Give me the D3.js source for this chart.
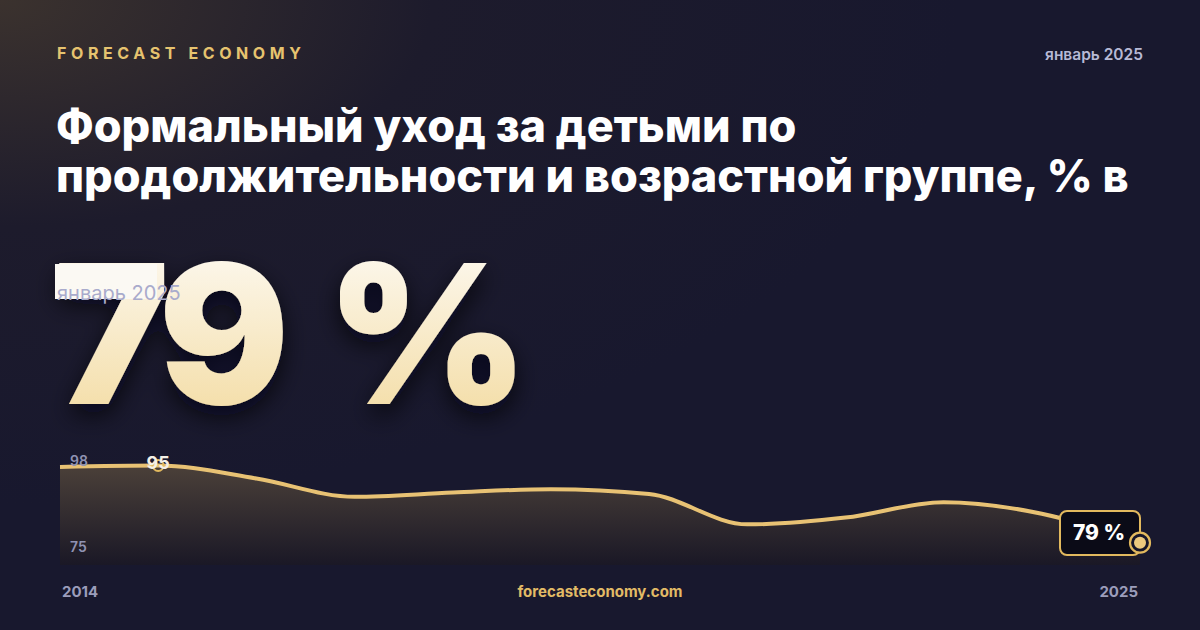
<!DOCTYPE html>
<html>
<head>
<meta charset="utf-8">
<script src="https://cdn.jsdelivr.net/npm/d3@7"></script>
<style>
  html, body { margin: 0; padding: 0; background: #16162a; }
  svg { display: block; font-family: Inter, "Noto Sans", sans-serif; }
</style>
</head>
<body>
<div id="chart"></div>
<script>
// данные: доля формального ухода за детьми, %
var years = [2014, 2015, 2016, 2017, 2018, 2019, 2020, 2021, 2022, 2023, 2024, 2025];
var values = [94.7, 95, 92.3, 88.5, 89.4, 90.1, 89.1, 82.8, 84.2, 87.4, 85.0, 79];
var yTicks = [98, 75];
var brand = "FORECAST ECONOMY";
var period = "январь 2025";
var titleLines = ["Формальный уход за детьми по", "продолжительности и возрастной группе, % в"];
var site = "forecasteconomy.com";

var width = 1200, height = 630;

var svg = d3.select("#chart")
  .append("svg")
  .attr("width", width)
  .attr("height", height);

var defs = svg.append("defs");

// фон с тёплым пятном слева сверху
var bg = defs.append("radialGradient").attr("id", "bg")
  .attr("cx", "0%").attr("cy", "0%").attr("r", "80%")
  .attr("gradientUnits", "objectBoundingBox");
bg.append("stop").attr("offset", "0%").attr("stop-color", "#3b322e");
bg.append("stop").attr("offset", "45%").attr("stop-color", "#1d1b2c");
bg.append("stop").attr("offset", "100%").attr("stop-color", "#18182e");

var big = defs.append("linearGradient").attr("id", "bigfill")
  .attr("x1", 0).attr("y1", 0).attr("x2", 0).attr("y2", 1);
big.append("stop").attr("offset", "0%").attr("stop-color", "#fefdfb");
big.append("stop").attr("offset", "100%").attr("stop-color", "#f2d899");

var areaGrad = defs.append("linearGradient").attr("id", "areafill")
  .attr("x1", 0).attr("y1", 0).attr("x2", 0).attr("y2", 1);
areaGrad.append("stop").attr("offset", "0%").attr("stop-color", "#4b4039");
areaGrad.append("stop").attr("offset", "100%").attr("stop-color", "#1a1826");

var shadow = defs.append("filter").attr("id", "shadow")
  .attr("x", "-20%").attr("y", "-20%").attr("width", "140%").attr("height", "150%");
shadow.append("feDropShadow")
  .attr("dx", 0).attr("dy", 10).attr("stdDeviation", 12)
  .attr("flood-color", "#05050c").attr("flood-opacity", 0.75);

svg.append("rect").attr("width", width).attr("height", height).attr("fill", "url(#bg)");

// шапка
svg.append("text")
  .attr("x", 57).attr("y", 59)
  .attr("fill", "#e6c36f")
  .style("font-size", "16px").style("font-weight", 700)
  .style("letter-spacing", "4.6px")
  .text(brand);

svg.append("text")
  .attr("x", 1143).attr("y", 60)
  .attr("text-anchor", "end")
  .attr("fill", "#b7b9d6")
  .style("font-size", "15.5px").style("font-weight", 600)
  .text(period);

svg.selectAll(".title")
  .data(titleLines)
  .enter()
  .append("text")
  .attr("class", "title")
  .attr("x", 56)
  .attr("y", function (d, i) { return 142 + i * 50; })
  .attr("fill", "#ffffff")
  .style("font-size", "45px").style("font-weight", 800)
  .text(function (d) { return d; });

// большое число
var last = values[values.length - 1];
svg.append("text")
  .attr("x", 54).attr("y", 404)
  .attr("fill", "url(#bigfill)")
  .attr("filter", "url(#shadow)")
  .style("font-size", "194px").style("font-weight", 900)
  .style("letter-spacing", "-9px")
  .style("word-spacing", "16px")
  .text(d3.format("d")(last) + " %");

svg.append("rect")
  .attr("x", 55).attr("y", 264).attr("width", 102).attr("height", 35)
  .attr("fill", "#fbf9f3");

svg.append("text")
  .attr("x", 57).attr("y", 300)
  .attr("fill", "#a9abcc")
  .style("font-size", "20px").style("font-weight", 400)
  .text(period);

// мини-график
var x = d3.scaleLinear()
  .domain(d3.extent(years))
  .range([60, 1140]);

var y = d3.scaleLinear()
  .domain([75, 98])
  .range([562, 451]);

var data = years.map(function (yr, i) { return { year: yr, value: values[i] }; });

var area = d3.area()
  .x(function (d) { return x(d.year); })
  .y0(565)
  .y1(function (d) { return y(d.value); })
  .curve(d3.curveMonotoneX);

var line = d3.line()
  .x(function (d) { return x(d.year); })
  .y(function (d) { return y(d.value); })
  .curve(d3.curveMonotoneX);

svg.append("path").datum(data).attr("d", area).attr("fill", "url(#areafill)");
svg.append("path").datum(data).attr("d", line)
  .attr("fill", "none").attr("stroke", "#e8c274").attr("stroke-width", 4)
  .attr("stroke-linejoin", "round");

svg.selectAll(".ytick")
  .data(yTicks)
  .enter()
  .append("text")
  .attr("class", "ytick")
  .attr("x", 70)
  .attr("y", function (d, i) { return i === 0 ? 466 : 552; })
  .attr("fill", "#9093b3")
  .style("font-size", "14px").style("font-weight", 600)
  .text(function (d) { return d; });

// максимум
var iMax = d3.maxIndex(values);
svg.append("circle")
  .attr("cx", x(years[iMax])).attr("cy", y(values[iMax]))
  .attr("r", 5.5)
  .attr("fill", "none").attr("stroke", "#e2b95e").attr("stroke-width", 1.8);
svg.append("text")
  .attr("x", x(years[iMax])).attr("y", y(values[iMax]) + 4)
  .attr("text-anchor", "middle")
  .attr("fill", "#f4f0e6")
  .style("font-size", "18px").style("font-weight", 700)
  .text(d3.format("d")(values[iMax]));

// последнее значение
var lx = x(years[years.length - 1]), ly = y(last);
svg.append("rect")
  .attr("x", lx - 80).attr("y", 511).attr("width", 80).attr("height", 44)
  .attr("rx", 7)
  .attr("fill", "#0b0b17").attr("stroke", "#e2b95e").attr("stroke-width", 2);
svg.append("text")
  .attr("x", lx - 41).attr("y", 540)
  .attr("text-anchor", "middle")
  .attr("fill", "#ffffff")
  .style("font-size", "21px").style("font-weight", 800)
  .text(d3.format("d")(last) + " %");
svg.append("circle")
  .attr("cx", lx).attr("cy", ly).attr("r", 10)
  .attr("fill", "#16162a").attr("stroke", "#e2b95e").attr("stroke-width", 2.2);
svg.append("circle")
  .attr("cx", lx).attr("cy", ly).attr("r", 6)
  .attr("fill", "#edca7e");

// подвал
svg.append("text")
  .attr("x", 62).attr("y", 597)
  .attr("fill", "#9b9dbb")
  .style("font-size", "15px").style("font-weight", 700)
  .text(years[0]);
svg.append("text")
  .attr("x", 1138).attr("y", 597)
  .attr("text-anchor", "end")
  .attr("fill", "#9b9dbb")
  .style("font-size", "15px").style("font-weight", 700)
  .text(years[years.length - 1]);
svg.append("text")
  .attr("x", 600).attr("y", 597)
  .attr("text-anchor", "middle")
  .attr("fill", "#e2bb66")
  .style("font-size", "15px").style("font-weight", 700)
  .text(site);
</script>
</body>
</html>
